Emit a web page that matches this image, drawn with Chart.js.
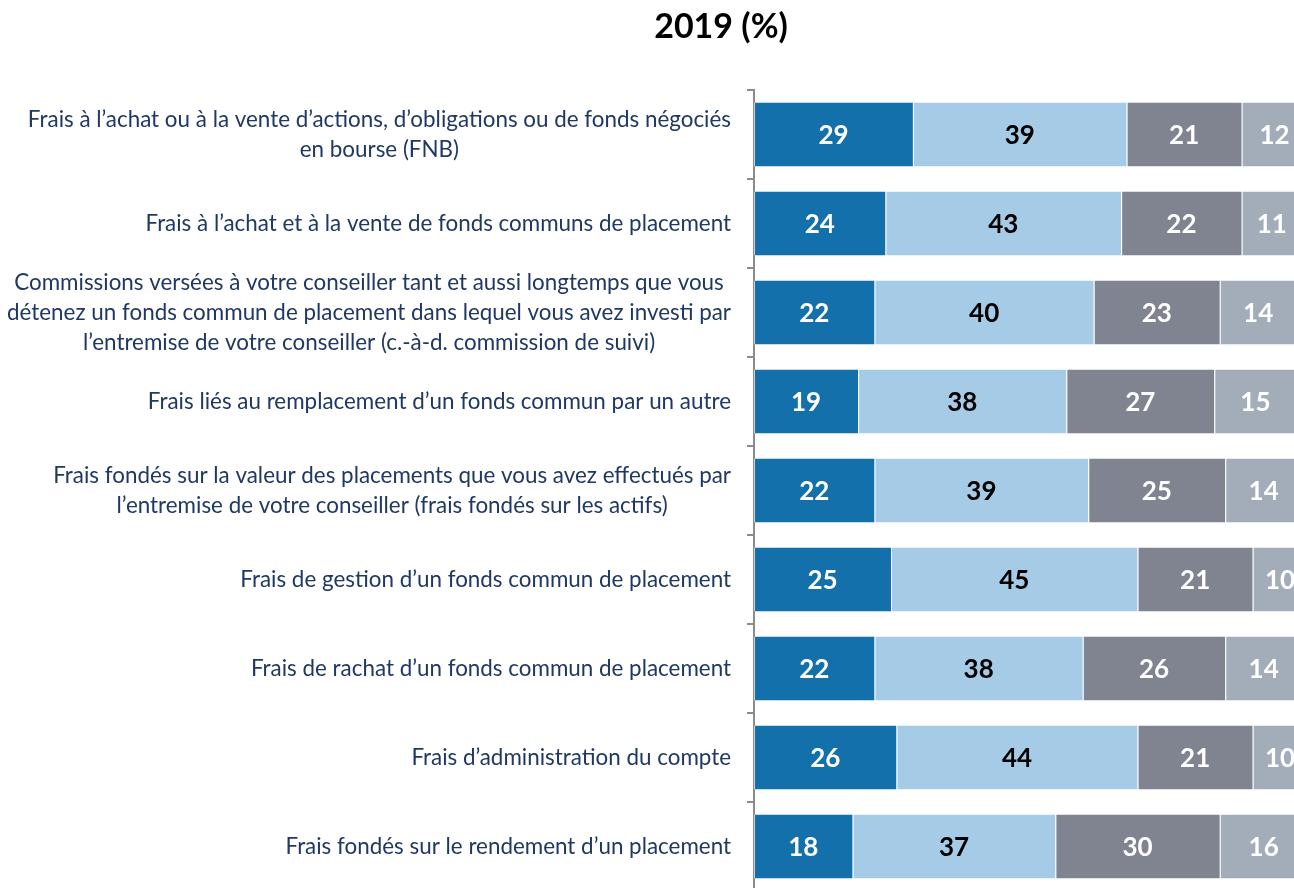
<!DOCTYPE html>
<html>
  <head>
    <style>
      body { margin: 0; overflow: hidden; background: white; }
      #chart-container { position: relative; width: 1310px; height: 900px; }
    </style>
  </head>
  <body>
    <div id="chart-container">
      <canvas id="chart" width="1310" height="900"></canvas>
    </div>

    <script src="https://cdn.jsdelivr.net/npm/chart.js"></script>
    <script>
      const chartTitle = "2019 (%)";

      const categories = [
        ["Frais à l’achat ou à la vente d’actions, d’obligations ou de fonds négociés", "en bourse (FNB)"],
        ["Frais à l’achat et à la vente de fonds communs de placement"],
        ["Commissions versées à votre conseiller tant et aussi longtemps que vous", "détenez un fonds commun de placement dans lequel vous avez investi par", "l’entremise de votre conseiller (c.-à-d. commission de suivi)"],
        ["Frais liés au remplacement d’un fonds commun par un autre"],
        ["Frais fondés sur la valeur des placements que vous avez effectués par", "l’entremise de votre conseiller (frais fondés sur les actifs)"],
        ["Frais de gestion d’un fonds commun de placement"],
        ["Frais de rachat d’un fonds commun de placement"],
        ["Frais d’administration du compte"],
        ["Frais fondés sur le rendement d’un placement"]
      ];

      const series1 = [29, 24, 22, 19, 22, 25, 22, 26, 18];
      const series2 = [39, 43, 40, 38, 39, 45, 38, 44, 37];
      const series3 = [21, 22, 23, 27, 25, 21, 26, 21, 30];
      const series4 = [12, 11, 14, 15, 14, 10, 14, 10, 16];

      const seriesNames = ["Série 1", "Série 2", "Série 3", "Série 4"];
      const seriesColors = ["#1470aa", "#a6cbe6", "#7f8490", "#a3adb9"];
      const valueColors = ["#ffffff", "#000000", "#ffffff", "#ffffff"];

      const labelFont = "Lato, 'Open Sans', sans-serif";

      // value labels in the middle of each segment
      const valueLabels = {
        id: "valueLabels",
        afterDatasetsDraw(chart) {
          const ctx = chart.ctx;
          ctx.save();
          ctx.font = "bold 26px " + labelFont;
          ctx.textAlign = "center";
          ctx.textBaseline = "middle";
          chart.data.datasets.forEach(function (ds, i) {
            const meta = chart.getDatasetMeta(i);
            meta.data.forEach(function (bar, j) {
              const x = (bar.x + bar.base) / 2;
              ctx.fillStyle = valueColors[i];
              ctx.fillText(String(ds.data[j]), x, bar.y + 1);
            });
          });
          ctx.restore();
        }
      };

      // category labels: block right aligned, lines centered inside block
      const categoryLabels = {
        id: "categoryLabels",
        afterDraw(chart) {
          const ctx = chart.ctx;
          const yScale = chart.scales.y;
          const rightEdge = 731;
          const lineHeight = 30;
          ctx.save();
          ctx.font = "22.4px " + labelFont;
          ctx.fillStyle = "#1f3864";
          ctx.textAlign = "center";
          ctx.textBaseline = "middle";
          categories.forEach(function (lines, i) {
            const cy = yScale.getPixelForValue(i);
            let maxW = 0;
            lines.forEach(function (l) { maxW = Math.max(maxW, ctx.measureText(l).width); });
            const cx = rightEdge - maxW / 2;
            const y0 = cy - (lines.length - 1) * lineHeight / 2;
            lines.forEach(function (l, k) {
              ctx.fillText(l, cx, y0 + k * lineHeight);
            });
          });
          ctx.font = "bold 34px " + labelFont;
          ctx.fillStyle = "#000000";
          ctx.fillText(chartTitle, 721, 27);
          ctx.restore();
        }
      };

      const canvas = document.getElementById("chart");

      new Chart(canvas, {
        type: "bar",
        data: {
          labels: categories,
          datasets: seriesNames.map(function (name, i) {
            return {
              label: name,
              data: [series1, series2, series3, series4][i],
              backgroundColor: seriesColors[i],
              borderColor: "rgba(255,255,255,0.6)",
              borderWidth: { left: 1 },
              borderSkipped: false,
              barPercentage: 0.72,
              categoryPercentage: 1
            };
          })
        },
        options: {
          indexAxis: "y",
          responsive: false,
          animation: false,
          layout: {
            padding: { top: 90, bottom: 9, left: 0, right: 8 }
          },
          plugins: {
            legend: { display: false },
            title: { display: false },
            tooltip: { enabled: false }
          },
          scales: {
            x: {
              display: false,
              stacked: true,
              min: 0,
              max: 100
            },
            y: {
              stacked: true,
              afterFit: function (scale) { scale.width = 754; },
              ticks: { display: false },
              grid: {
                display: true,
                offset: true,
                drawOnChartArea: false,
                drawTicks: true,
                tickLength: 7,
                color: "#8c8c8c",
                lineWidth: 2
              },
              border: { display: true, color: "#8c8c8c", width: 2 }
            }
          }
        },
        plugins: [valueLabels, categoryLabels]
      });
    </script>
  </body>
</html>
